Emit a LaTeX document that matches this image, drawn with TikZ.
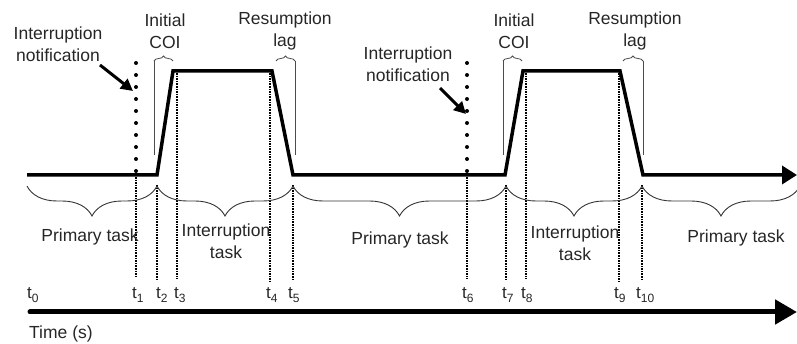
\documentclass[tikz,border=0pt]{standalone}
\usepackage{fontspec}
\setmainfont{Liberation Sans}
\usetikzlibrary{arrows.meta,decorations.pathreplacing}
\tikzset{
  lbl/.style={inner sep=0pt, align=center, font=\fontsize{17.5}{22}\selectfont, text=black!85},
  tlbl/.style={inner sep=0pt, anchor=west, font=\fontsize{17}{20}\selectfont, text=black!85},
  signal/.style={line width=3.5pt, line join=miter, -{Triangle[length=15pt,width=18pt]}},
  timeaxis/.style={line width=5pt, line cap=round, -{Triangle[length=22pt,width=24pt]}},
  dotline/.style={line width=4pt, line cap=round, dash pattern=on 0pt off 12pt},
  dashline/.style={line width=1.8pt, dash pattern=on 1.6pt off 1pt},
  thinline/.style={line width=0.8pt, black!70},
  upbrace/.style={thinline, decorate, decoration={brace, amplitude=5pt}},
  lowbrace/.style={line width=0.9pt, black!80, decorate, decoration={brace, amplitude=30pt, mirror}},
  notearrow/.style={line width=3pt, -{Triangle[length=12pt,width=12pt]}},
}
\newcommand{\tsub}[2]{#1\raisebox{-0.35ex}{\fontsize{12}{12}\selectfont #2}}
\begin{document}
\begin{tikzpicture}[x=1pt,y=-1pt]
\useasboundingbox (0,0) rectangle (797,344);

% key coordinates of the signal
\coordinate (s0) at (27,175);
\coordinate (r1a) at (157,175); \coordinate (r1b) at (173,71);
\coordinate (f1a) at (272,71);  \coordinate (f1b) at (293,175);
\coordinate (r2a) at (505,175); \coordinate (r2b) at (523,71);
\coordinate (f2a) at (620,71);  \coordinate (f2b) at (643,175);
\coordinate (send) at (797,175);

% notification dotted lines (above baseline)
\coordinate (n1top) at (136,63); \coordinate (n1bot) at (136,175);
\coordinate (n6top) at (467,63); \coordinate (n6bot) at (467,175);
\draw[dotline] (n1top) -- (n1bot);
\draw[dotline] (n6top) -- (n6bot);

% dashed time markers
\coordinate (d1a) at (136,177); \coordinate (d1b) at (136,278);
\coordinate (d2a) at (157,185); \coordinate (d2b) at (157,279);
\coordinate (d3a) at (177,73);  \coordinate (d3b) at (177,279);
\coordinate (d4a) at (270,73);  \coordinate (d4b) at (270,282);
\coordinate (d5a) at (293,185); \coordinate (d5b) at (293,279);
\coordinate (d6a) at (467,177); \coordinate (d6b) at (467,279);
\coordinate (d7a) at (506,185); \coordinate (d7b) at (506,279);
\coordinate (d8a) at (526,73);  \coordinate (d8b) at (526,279);
\coordinate (d9a) at (619,73);  \coordinate (d9b) at (619,282);
\coordinate (d10a) at (642,185); \coordinate (d10b) at (642,279);
\foreach \i in {1,...,10} { \draw[dashline] (d\i a) -- (d\i b); }

% thin guide lines and upper braces
\coordinate (g1a) at (154,61); \coordinate (g1b) at (154,155);
\coordinate (g2a) at (295,61); \coordinate (g2b) at (295,155);
\coordinate (g3a) at (503,61); \coordinate (g3b) at (503,155);
\coordinate (g4a) at (643,61); \coordinate (g4b) at (643,155);
\draw[thinline] (g1a) -- (g1b);
\draw[thinline] (g2a) -- (g2b);
\draw[thinline] (g3a) -- (g3b);
\draw[thinline] (g4a) -- (g4b);
\coordinate (ub1r) at (173,61); \coordinate (ub2l) at (276,61);
\coordinate (ub3r) at (522,61); \coordinate (ub4l) at (623,61);
\draw[upbrace] (g1a) -- (ub1r);
\draw[upbrace] (ub2l) -- (g2a);
\draw[upbrace] (g3a) -- (ub3r);
\draw[upbrace] (ub4l) -- (g4a);

% signal
\draw[signal] (s0) -- (r1a) -- (r1b) -- (f1a) -- (f1b) -- (r2a) -- (r2b) -- (f2a) -- (f2b) -- (send);

% lower braces
\coordinate (b0) at (27,186);  \coordinate (b1) at (157,186);
\coordinate (b2) at (293,186); \coordinate (b3) at (506,186);
\coordinate (b4) at (642,186); \coordinate (b5) at (800,186);
\draw[lowbrace] (b0) -- (b1);
\draw[lowbrace] (b1) -- (b2);
\draw[lowbrace] (b2) -- (b3);
\draw[lowbrace] (b3) -- (b4);
\draw[lowbrace] (b4) -- (b5);

% time axis
\coordinate (ta) at (30,312); \coordinate (tb) at (797,312);
\draw[timeaxis] (ta) -- (tb);

% labels
\node[lbl] (notif1) at (58,44) {Interruption\\notification};
\node[lbl] (notif2) at (408,64) {Interruption\\notification};
\coordinate (a1) at (100,65); \coordinate (a1t) at (133,91);
\coordinate (a2) at (440,88); \coordinate (a2t) at (466,114);
\draw[notearrow] (a1) -- (a1t);
\draw[notearrow] (a2) -- (a2t);

\node[lbl] (coi1) at (165,31) {Initial\\COI};
\node[lbl] (coi2) at (514,31) {Initial\\COI};
\node[lbl] (lag1) at (285,31) {Resumption\\lag};
\node[lbl] (lag2) at (635,31) {Resumption\\lag};

\node[lbl] (pt1) at (90,237) {Primary task};
\node[lbl] (it1) at (226,241) {Interruption\\task};
\node[lbl] (pt2) at (400,240) {Primary task};
\node[lbl] (it2) at (575,243) {Interruption\\task};
\node[lbl] (pt3) at (736,238) {Primary task};

\node[tlbl] (t0) at (27,295) {\tsub{t}{0}};
\node[tlbl] (t1) at (132,295) {\tsub{t}{1}};
\node[tlbl] (t2) at (156,295) {\tsub{t}{2}};
\node[tlbl] (t3) at (174,295) {\tsub{t}{3}};
\node[tlbl] (t4) at (266,295) {\tsub{t}{4}};
\node[tlbl] (t5) at (288,295) {\tsub{t}{5}};
\node[tlbl] (t6) at (462,295) {\tsub{t}{6}};
\node[tlbl] (t7) at (502,295) {\tsub{t}{7}};
\node[tlbl] (t8) at (521,295) {\tsub{t}{8}};
\node[tlbl] (t9) at (614,295) {\tsub{t}{9}};
\node[tlbl] (t10) at (636,295) {\tsub{t}{10}};

\node[lbl, anchor=west] (time) at (29,334) {Time (s)};
\end{tikzpicture}
\end{document}
